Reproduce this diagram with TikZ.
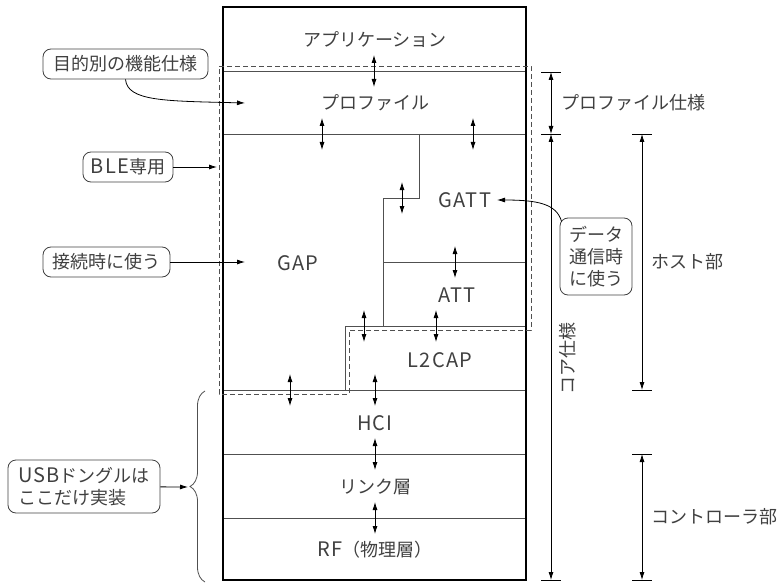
\documentclass[tikz,border=0pt]{standalone}
\usepackage{fontspec}
\setmainfont{Noto Sans CJK JP}
\usetikzlibrary{arrows.meta,decorations.pathreplacing}
\definecolor{inkgray}{RGB}{64,64,64}
\definecolor{rulegray}{RGB}{80,80,80}
\newcommand\wideabc[1]{{\fontsize{20}{22}\selectfont\addfontfeature{LetterSpace=6}#1}}

\begin{document}
\begin{tikzpicture}[x=1pt, y=-1pt, >={Latex[length=8pt,width=5pt]},
        font=\fontsize{18}{22}\selectfont,
        layer/.style={text=inkgray, inner sep=0pt},
        callout/.style={draw=black!75, line width=0.8pt, rounded corners=8pt, text=inkgray, inner sep=0pt, align=center},
        seam/.style={draw=rulegray, line width=0.8pt},
        updown/.style={<->, line width=0.8pt},
        dimline/.style={<->, line width=0.8pt},
        blezone/.style={draw=rulegray, dash pattern=on 5pt off 3pt, line width=0.8pt}]
        \useasboundingbox (0,0) rectangle (784,583);
        % layer stack
        \foreach \y in {71,134,390,454,518}
            \draw[seam] (223,\y) -- (526,\y);
        \draw[seam] (419,134) -- (419,198) -- (383,198) -- (383,326);
        \draw[seam] (383,262) -- (526,262);
        \draw[seam] (345,390) -- (345,326) -- (526,326);
        \draw[line width=1.3pt] (223,7) rectangle (526,580);
        \draw[blezone] (219,66) -- (531,66) -- (531,330) -- (349,330) -- (349,394) -- (219,394) -- cycle;
        \node[layer] (app) at (375,40) {アプリケーション};
        \node[layer] (prof) at (375,103) {プロファイル};
        \node[layer] (gap) at (298,263) {\wideabc{GAP}};
        \node[layer] (gatt) at (465,200) {\wideabc{GATT}};
        \node[layer] (att) at (457,295) {\wideabc{ATT}};
        \node[layer] (ltcap) at (440,360) {\wideabc{L2CAP}};
        \node[layer] (hci) at (375,423) {\wideabc{HCI}};
        \node[layer] (link) at (375,487) {リンク層};
        \node[layer] (rf) at (375,550) {\wideabc{RF}（物理層）};
        \foreach \x/\y in {374/71, 322/134, 473/134, 402/198, 455/262, 436/326, 364/326, 290/390, 375/390, 375/454, 375/518}
            \draw[updown] (\x,\y-16) -- (\x,\y+16);
        % dimensions
        \coordinate (proftop) at (551,72);
        \coordinate (profbot) at (551,134);
        \coordinate (corebot) at (551,580);
        \coordinate (hosttop) at (642,134);
        \coordinate (hostbot) at (642,390);
        \coordinate (ctrltop) at (642,454);
        \coordinate (ctrlbot) at (642,580);
        \draw[dimline] (proftop) -- (profbot);
        \draw[dimline] (profbot) -- (corebot);
        \draw[dimline] (hosttop) -- (hostbot);
        \draw[dimline] (ctrltop) -- (ctrlbot);
        \foreach \c in {proftop,profbot,corebot,hosttop,hostbot,ctrltop,ctrlbot}
            \draw[line width=0.8pt] ([xshift=-10pt]\c) -- ([xshift=10pt]\c);
        \node[layer, anchor=west] (profspec) at (561,103) {プロファイル仕様};
        \node[layer, rotate=90] (corespec) at (568,358) {コア仕様};
        \node[layer, anchor=west] (host) at (651,262) {ホスト部};
        \node[layer, anchor=west] (ctrl) at (651,517) {コントローラ部};
        % callouts
        \node[callout, minimum width=165pt, minimum height=30pt] (purpose) at (125.5,64) {目的別の機能仕様};
        \node[callout, minimum width=90pt, minimum height=30pt] (bleonly) at (128,167) {\wideabc{BLE}専用};
        \node[callout, minimum width=127pt, minimum height=30pt] (conn) at (106.5,262) {接続時に使う};
        \node[callout, minimum width=152pt, minimum height=53pt, align=left] (usb) at (84,486.5) {\wideabc{USB}ドングルは\\ここだけ実装};
        \node[callout, minimum width=72pt, minimum height=77pt] (datacomm) at (596,256.5) {データ\\通信時\\に使う};
        \coordinate (profin) at (245,103);
        \coordinate (blein) at (217,167);
        \coordinate (gapin) at (245,262);
        \coordinate (bracetip) at (188,487);
        \coordinate (gattin) at (497,200);
        \draw[->, line width=0.8pt] (purpose.south) .. controls +(2,22) and +(-80,-2) .. (profin);
        \draw[->, line width=0.8pt] (bleonly) -- (blein);
        \draw[->, line width=0.8pt] (conn) -- (gapin);
        \draw[->, line width=0.8pt] (usb) -- (bracetip);
        \draw[->, line width=0.8pt] ([shift={(2,4)}]datacomm.north west) .. controls +(-5,-18) and +(40,0) .. (gattin);
        \draw[rulegray, line width=0.8pt, decorate, decoration={brace, amplitude=15pt}] (205,582) -- (205,391);
\end{tikzpicture}
\end{document}
